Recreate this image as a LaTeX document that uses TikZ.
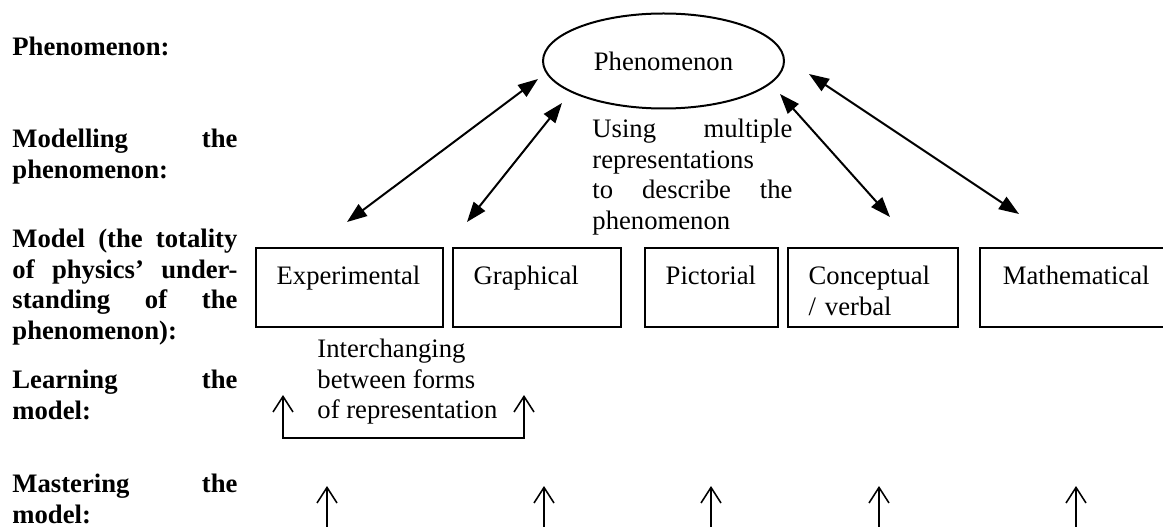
\documentclass[tikz,border=0pt]{standalone}
\usepackage{fontspec}
\setmainfont{Liberation Serif}
\usetikzlibrary{arrows.meta,shapes.geometric}
\newcommand\jusline[2]{\strut{\spaceskip=0.25em plus 10em\xspaceskip=0pt\makebox[#1][s]{#2}}}
\newcommand\boxlines[2]{\rule{0pt}{16.4pt}#1\\\rule[-5.1pt]{0pt}{5.1pt}#2}
\begin{document}
\begin{tikzpicture}[x=0.45pt,y=-0.45pt,
  font=\fontsize{12}{13.8}\selectfont,
  side/.style={anchor=north west,inner sep=0pt,text width=101.25pt,align=left,font=\fontsize{12}{13.8}\selectfont\bfseries},
  repbox/.style={draw,line width=0.9pt,anchor=north west,align=left,inner ysep=0pt,inner xsep=9.3pt},
  dbl/.style={line width=0.9pt,{Triangle[length=9pt,width=6.5pt]}-{Triangle[length=9pt,width=6.5pt]}},
  up/.style={line width=0.7pt,-{Straight Barb[length=7pt,width=9pt]}},
  br/.style={line width=0.7pt,{Straight Barb[length=7pt,width=9pt]}-{Straight Barb[length=7pt,width=9pt]}}]
\useasboundingbox (0,0) rectangle (1163,527);
\clip (0,0) rectangle (1163,527);

% left column
\node[side] (l1) at (12,33.5) {\strut Phenomenon:};
\node[side] (l2) at (12,125.5) {\jusline{101.25pt}{Modelling the}\\phenomenon:};
\node[side] (l3) at (12,225.5) {\jusline{101.25pt}{Model (the totality}\\\jusline{101.25pt}{of physics' under-}\\\jusline{101.25pt}{standing of the}\\phenomenon):};
\node[side] (l4) at (12,366.5) {\jusline{101.25pt}{Learning the}\\model:};
\node[side] (l5) at (12,470.5) {\jusline{101.25pt}{Mastering the}\\model:};

% phenomenon
\node[ellipse,draw,line width=0.9pt,minimum width=108.45pt,minimum height=42.75pt,inner sep=0pt] (phen) at (663.5,61) {Phenomenon};

\node[anchor=north west,inner sep=0pt,text width=90pt,align=left] (using) at (592,115.5)
  {\jusline{90pt}{Using multiple}\\representations\\\jusline{90pt}{to describe the}\\phenomenon};

% representation boxes
\node[repbox,text width=65.5pt] (exp) at (255,247.5) {\boxlines{Experimental}{}};
\node[repbox,text width=57.0pt] (gra) at (452,247.5) {\boxlines{Graphical}{}};
\node[repbox,text width=41.2pt] (pic) at (644,247.5) {\boxlines{Pictorial}{}};
\node[repbox,text width=57.9pt] (con) at (787,247.5) {\boxlines{Conceptual}{/ verbal}};
\node[repbox,text width=98.4pt,inner xsep=10.3pt] (mat) at (979,247.5) {\boxlines{Mathematical}{}};

% double arrows
\coordinate (a1t) at (538,79);  \coordinate (a1b) at (347,222);
\coordinate (a2t) at (562,103); \coordinate (a2b) at (467,222);
\coordinate (a3t) at (780,94);  \coordinate (a3b) at (890,217);
\coordinate (a4t) at (809,74);  \coordinate (a4b) at (1019,214);
\draw[dbl] (a1t) -- (a1b);
\draw[dbl] (a2t) -- (a2b);
\draw[dbl] (a3t) -- (a3b);
\draw[dbl] (a4t) -- (a4b);

% learning
\node[anchor=north west,inner sep=0pt,align=left] (inter) at (317,335.5)
  {\strut Interchanging\\between forms\\of representation};
\coordinate (b1) at (283,395); \coordinate (b2) at (283,438);
\coordinate (b3) at (524,438); \coordinate (b4) at (524,395);
\draw[br] (b1) -- (b2) -- (b3) -- (b4);

% mastering
\foreach \x [count=\i] in {327,544,711,879,1076}{
  \coordinate (m\i) at (\x,486);
  \draw[up] (\x,535) -- (m\i);
}
\end{tikzpicture}
\end{document}
